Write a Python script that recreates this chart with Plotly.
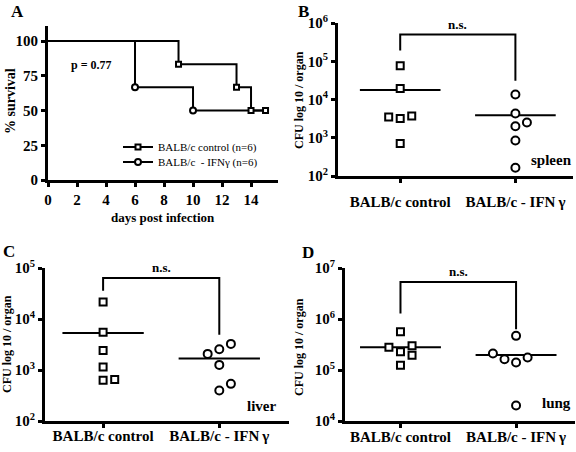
import math
import plotly.graph_objects as go

# ---------------- data ----------------
# Panel A: Kaplan-Meier survival
ctrl_days = [0, 9, 13, 14, 15]
ctrl_surv = [100, 83.3, 66.7, 50, 50]
ifn_days = [0, 6, 10, 15]
ifn_surv = [100, 66.7, 50, 50]
ctrl_mark_days = [9, 13, 14, 15]
ctrl_mark_surv = [83.3, 66.7, 50, 50]
ifn_mark_days = [6, 10]
ifn_mark_surv = [66.7, 50]
p_text = "p = 0.77"

groups = ["BALB/c control", "BALB/c - IFN\u2009γ"]

# Panel B: spleen CFU
spleen_ctrl = [7.6e4, 1.95e4, 3.5e3, 3.2e3, 3.7e3, 7.1e2]
spleen_ctrl_off = [0, 0, -0.1, 0, 0.1, 0]
spleen_ifn = [1.35e4, 4.3e3, 2.0e3, 2.5e3, 8.5e2, 1.65e2]
spleen_ifn_off = [0, 0, 0, 0.1, 0, 0]
spleen_bracket = [1.9e5, 5.0e5, 3.1e4]   # left end, top, right end

# Panel C: liver CFU
liver_ctrl = [2.15e4, 5.5e3, 2.4e3, 1.15e3, 6.3e2, 6.5e2]
liver_ctrl_off = [0, 0, 0, 0, 0, 0.1]
liver_ifn = [2.07e3, 2.55e3, 3.25e3, 1.26e3, 3.95e2, 5.35e2]
liver_ifn_off = [-0.1, 0, 0.1, 0, 0, 0.1]
liver_bracket = [3.6e4, 6.4e4, 4.9e3]

# Panel D: lung CFU
lung_ctrl = [5.6e5, 2.27e5, 2.8e5, 2.98e5, 1.95e5, 1.24e5]
lung_ctrl_off = [0, 0, -0.1, 0.1, 0.1, 0]
lung_ifn = [4.67e5, 2.1e5, 1.63e5, 1.4e5, 1.76e5, 2.02e4]
lung_ifn_off = [0, -0.2, -0.1, 0, 0.1, 0]
lung_bracket = [1.28e6, 5.3e6, 6.3e5]

# ---------------- styling ----------------
FONT = "Liberation Serif"
W, H = 576, 452
BLK = "black"


def px_x(p):
    return p / W


def px_y(p):
    return 1 - p / H


fig = go.Figure()

# ---- Panel A ----
fig.add_trace(go.Scatter(x=ctrl_days, y=ctrl_surv, mode="lines", line=dict(color=BLK, width=2, shape="hv"),
                         showlegend=False, xaxis="x", yaxis="y"))
fig.add_trace(go.Scatter(x=ifn_days, y=ifn_surv, mode="lines", line=dict(color=BLK, width=2, shape="hv"),
                         showlegend=False, xaxis="x", yaxis="y"))
fig.add_trace(go.Scatter(x=ctrl_mark_days, y=ctrl_mark_surv, mode="markers",
                         marker=dict(symbol="square", size=5, color="white", line=dict(color=BLK, width=2)),
                         showlegend=False, xaxis="x", yaxis="y", cliponaxis=False))
fig.add_trace(go.Scatter(x=ifn_mark_days, y=ifn_mark_surv, mode="markers",
                         marker=dict(symbol="circle", size=6, color="white", line=dict(color=BLK, width=2)),
                         showlegend=False, xaxis="x", yaxis="y", cliponaxis=False))
# legend entries
fig.add_trace(go.Scatter(x=[None], y=[None], mode="lines+markers", name="BALB/c control (n=6)",
                         line=dict(color=BLK, width=2),
                         marker=dict(symbol="square", size=5, color="white", line=dict(color=BLK, width=2)),
                         legend="legend", xaxis="x", yaxis="y"))
fig.add_trace(go.Scatter(x=[None], y=[None], mode="lines+markers", name="BALB/c\u00a0 - IFNγ (n=6)",
                         line=dict(color=BLK, width=2),
                         marker=dict(symbol="circle", size=6, color="white", line=dict(color=BLK, width=2)),
                         legend="legend2", xaxis="x", yaxis="y"))


def scatter_panel(xa, ya, ctrl, ctrl_off, ifn, ifn_off, bracket):
    hw = 0.35
    for i, vals in enumerate([ctrl, ifn]):
        m = sum(vals) / len(vals)
        fig.add_trace(go.Scatter(x=[i - hw, i + hw], y=[m, m], mode="lines",
                                 line=dict(color=BLK, width=2), showlegend=False, xaxis=xa, yaxis=ya))
    fig.add_trace(go.Scatter(x=[0, 0, 1, 1], y=[bracket[0], bracket[1], bracket[1], bracket[2]], mode="lines",
                             line=dict(color=BLK, width=2), showlegend=False, xaxis=xa, yaxis=ya))
    for i, (vals, offs, sym) in enumerate([(ctrl, ctrl_off, "square"), (ifn, ifn_off, "circle")]):
        fig.add_trace(go.Scatter(x=[i + o for o in offs], y=vals, mode="markers",
                                 marker=dict(symbol=sym, size=7 if sym == "square" else 8, color="white",
                                             line=dict(color=BLK, width=2)),
                                 showlegend=False, xaxis=xa, yaxis=ya))


scatter_panel("x2", "y2", spleen_ctrl, spleen_ctrl_off, spleen_ifn, spleen_ifn_off, spleen_bracket)
scatter_panel("x3", "y3", liver_ctrl, liver_ctrl_off, liver_ifn, liver_ifn_off, liver_bracket)
scatter_panel("x4", "y4", lung_ctrl, lung_ctrl_off, lung_ifn, lung_ifn_off, lung_bracket)

tickfont = dict(family=FONT, size=15, color=BLK, weight="bold")
axis_common = dict(showline=True, linecolor=BLK, linewidth=3, ticks="outside", tickcolor=BLK,
                   tickwidth=3, ticklen=4, showgrid=False, zeroline=False, tickfont=tickfont,
                   fixedrange=True, automargin=False)


def dec_ticks(lo, hi):
    vals = [10 ** k for k in range(lo, hi + 1)]
    txt = ["10<sup>%d</sup>" % k for k in range(lo, hi + 1)]
    return vals, txt


layout = dict(
    width=W, height=H, margin=dict(l=0, r=0, t=0, b=0, autoexpand=False),
    paper_bgcolor="white", plot_bgcolor="white",
    font=dict(family=FONT, color=BLK),
    xaxis=dict(domain=[px_x(48), px_x(278)], range=[0, 15.86], tickvals=list(range(0, 15, 2)),
               anchor="y", **axis_common),
    yaxis=dict(domain=[px_y(180), px_y(26)], range=[0, 110.8], tickvals=[0, 25, 50, 75, 100],
               anchor="x", **axis_common),
)

for n, (xd, yd, xr, ylo, yhi, cat_off) in {
    2: ((338, 573), (176, 23), (-0.54, 1.50), 2, 6, 6),
    3: ((45, 289), (421, 268), (-0.5, 1.60), 2, 5, -5),
    4: ((345, 575), (421, 268), (-0.48, 1.51), 4, 7, -4),
}.items():
    tv, tt = dec_ticks(ylo, yhi)
    layout["xaxis%d" % n] = dict(domain=[px_x(xd[0]), px_x(xd[1])], range=list(xr), tickvals=[0, 1],
                                 ticktext=groups, anchor="y%d" % n, ticklabelstandoff=cat_off, **axis_common)
    layout["yaxis%d" % n] = dict(domain=[px_y(yd[0]), px_y(yd[1])], type="log", range=[ylo, yhi],
                                 tickvals=tv, ticktext=tt, anchor="x%d" % n, **axis_common)

leg_common = dict(font=dict(family=FONT, size=11, color=BLK), bgcolor="rgba(0,0,0,0)",
                  xanchor="left", yanchor="middle", itemwidth=30, tracegroupgap=0)
layout["legend"] = dict(x=px_x(118), y=px_y(147), **leg_common)
layout["legend2"] = dict(x=px_x(118), y=px_y(162), **leg_common)

fig.update_layout(**layout)

bold = dict(family=FONT, color=BLK, weight="bold")
ann = []
# panel letters (top of text box)
for letter, (cx, ty) in {"A": (17, 0), "B": (303, 0), "C": (9, 240), "D": (308, 241)}.items():
    ann.append(dict(text=letter, x=px_x(cx), y=px_y(ty), xref="paper", yref="paper", showarrow=False,
                    xanchor="center", yanchor="top", font=dict(size=17, **bold)))
# axis titles
ann.append(dict(text="% survival", x=px_x(11), y=px_y(101), textangle=-90, xref="paper", yref="paper",
                xanchor="center", yanchor="middle", showarrow=False, font=dict(size=14, **bold)))
ann.append(dict(text="days post infection", x=px_x(163), y=px_y(217), xref="paper", yref="paper",
                xanchor="center", yanchor="middle", showarrow=False, font=dict(size=13, **bold)))
for (cx, cy) in [(299, 100), (7, 344), (299, 347)]:
    ann.append(dict(text="CFU log 10 / organ", x=px_x(cx), y=px_y(cy), textangle=-90, xref="paper",
                    yref="paper", xanchor="center", yanchor="middle", showarrow=False,
                    font=dict(size=12, **bold)))
# p value
ann.append(dict(text=p_text, x=3.0, y=82.7, xref="x", yref="y", showarrow=False, font=dict(size=12, **bold)))
# n.s. labels and organ labels
for xa, ya, br, organ, ox, oy in [("x2", "y2", spleen_bracket, "spleen", 1.31, 2.42),
                                  ("x3", "y3", liver_bracket, "liver", 1.36, 2.30),
                                  ("x4", "y4", lung_bracket, "lung", 1.35, 4.35)]:
    ann.append(dict(text="n.s.", x=0.5, y=math.log10(br[1]), xref=xa, yref=ya, showarrow=False,
                    yanchor="bottom", yshift=1, font=dict(size=13, **bold)))
    ann.append(dict(text=organ, x=ox, y=oy, xref=xa, yref=ya, showarrow=False,
                    font=dict(size=15, **bold)))
fig.update_layout(annotations=ann)

fig.write_html("out.html", config={"displayModeBar": False},
               post_script="document.body.style.margin='0';document.body.style.overflow='hidden';")
